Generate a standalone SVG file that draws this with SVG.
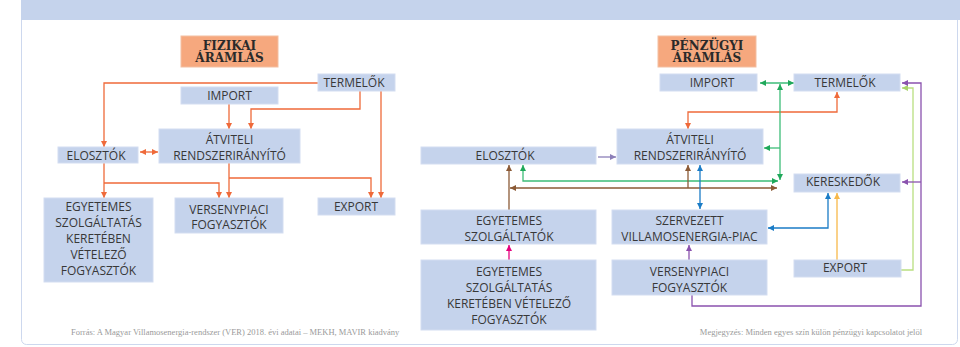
<svg xmlns="http://www.w3.org/2000/svg" width="960" height="347" viewBox="0 0 960 347">
<style>
.box{fill:#c5d3ec;stroke:#d3ddf1;stroke-width:1}
.title{fill:#f6a87e;stroke:#f3bfa2;stroke-width:1}
.t{font-family:"Open Sans","Liberation Sans",sans-serif;font-size:12px;fill:#383838;text-anchor:middle}
.tt{font-family:"DejaVu Serif","Liberation Serif",serif;font-size:12px;font-weight:bold;fill:#2a2a2a;text-anchor:middle}
.note{font-family:"Liberation Serif","DejaVu Serif",serif;font-size:8.5px;fill:#9a9a9a}
.c{fill:none;stroke-width:1.3}
.or{stroke:#ef6a3a}.gr{stroke:#3dbd78}.br{stroke:#8b5a36}.bl{stroke:#1b7cc6}.pu{stroke:#8a52ae}.lv{stroke:#8c7fb8}.ye{stroke:#f7b84a}.lg{stroke:#b9df80}.mg{stroke:#e5007d}
</style>
<defs>
<marker id="a-or" viewBox="0 0 6 6" refX="6" refY="3" markerWidth="6" markerHeight="6" markerUnits="userSpaceOnUse" orient="auto-start-reverse"><path d="M0,0L6,3L0,6z" fill="#ef6a3a"/></marker>
<marker id="a-gr" viewBox="0 0 6 6" refX="6" refY="3" markerWidth="6" markerHeight="6" markerUnits="userSpaceOnUse" orient="auto-start-reverse"><path d="M0,0L6,3L0,6z" fill="#1fa85a"/></marker>
<marker id="a-br" viewBox="0 0 6 6" refX="6" refY="3" markerWidth="6" markerHeight="6" markerUnits="userSpaceOnUse" orient="auto-start-reverse"><path d="M0,0L6,3L0,6z" fill="#8b5a36"/></marker>
<marker id="a-bl" viewBox="0 0 6 6" refX="6" refY="3" markerWidth="6" markerHeight="6" markerUnits="userSpaceOnUse" orient="auto-start-reverse"><path d="M0,0L6,3L0,6z" fill="#1b7cc6"/></marker>
<marker id="a-pu" viewBox="0 0 6 6" refX="6" refY="3" markerWidth="6" markerHeight="6" markerUnits="userSpaceOnUse" orient="auto-start-reverse"><path d="M0,0L6,3L0,6z" fill="#8a52ae"/></marker>
<marker id="a-lv" viewBox="0 0 6 6" refX="6" refY="3" markerWidth="6" markerHeight="6" markerUnits="userSpaceOnUse" orient="auto-start-reverse"><path d="M0,0L6,3L0,6z" fill="#8c7fb8"/></marker>
<marker id="a-ye" viewBox="0 0 6 6" refX="6" refY="3" markerWidth="6" markerHeight="6" markerUnits="userSpaceOnUse" orient="auto-start-reverse"><path d="M0,0L6,3L0,6z" fill="#f7b84a"/></marker>
<marker id="a-lg" viewBox="0 0 6 6" refX="6" refY="3" markerWidth="6" markerHeight="6" markerUnits="userSpaceOnUse" orient="auto-start-reverse"><path d="M0,0L6,3L0,6z" fill="#a8d46a"/></marker>
<marker id="a-mg" viewBox="0 0 6 6" refX="6" refY="3" markerWidth="6" markerHeight="6" markerUnits="userSpaceOnUse" orient="auto-start-reverse"><path d="M0,0L6,3L0,6z" fill="#e5007d"/></marker>
</defs>
<rect x="0" y="0" width="960" height="347" fill="#ffffff"/>
<rect x="21.5" y="-10" width="936" height="354.5" rx="5" fill="#ffffff" stroke="#cdd8ee" stroke-width="1"/>
<rect x="21" y="0" width="939" height="20" fill="#c5d3ec"/>

<g id="connectors">
<path class="c or" d="M318,83H104V147" marker-end="url(#a-or)"/>
<path class="c or" d="M360,91V109H251V129" marker-end="url(#a-or)"/>
<path class="c or" d="M229,104V129" marker-end="url(#a-or)"/>
<path class="c or" d="M381,91V198" marker-end="url(#a-or)"/>
<path class="c or" d="M140,152H158" marker-start="url(#a-or)" marker-end="url(#a-or)"/>
<path class="c or" d="M104,163V198" marker-end="url(#a-or)"/>
<path class="c or" d="M104,183H219V198" marker-end="url(#a-or)"/>
<path class="c or" d="M229,163V198" marker-end="url(#a-or)"/>
<path class="c or" d="M229,178H371V198" marker-end="url(#a-or)"/>

<path class="c lv" d="M598,157H616" marker-end="url(#a-lv)"/>
<path class="c or" d="M837,92V112H688V129" marker-start="url(#a-or)" marker-end="url(#a-or)"/>
<path class="c gr" d="M760,83H794" marker-start="url(#a-gr)" marker-end="url(#a-gr)"/>
<path class="c gr" d="M780,84V180" marker-start="url(#a-gr)" marker-end="url(#a-gr)"/>
<path class="c gr" d="M780,148H764" marker-end="url(#a-gr)"/>
<path class="c gr" d="M523,165V181H778" marker-start="url(#a-gr)" marker-end="url(#a-gr)"/>
<path class="c br" d="M510,188H777" marker-start="url(#a-br)" marker-end="url(#a-br)"/>
<path class="c br" d="M509,210V165" marker-end="url(#a-br)"/>
<path class="c br" d="M688,188V165" marker-end="url(#a-br)"/>
<path class="c bl" d="M700,165V209" marker-start="url(#a-bl)" marker-end="url(#a-bl)"/>
<path class="c bl" d="M828,193V228H768" marker-start="url(#a-bl)" marker-end="url(#a-bl)"/>
<path class="c ye" d="M837,260V193" marker-end="url(#a-ye)"/>
<path class="c lg" d="M901,270H913V88H902" marker-end="url(#a-lg)"/>
<path class="c pu" d="M692,295V306H921V83H902" marker-end="url(#a-pu)"/>
<path class="c pu" d="M921,182H902" marker-end="url(#a-pu)"/>
<path class="c pu" d="M689,260V245" marker-end="url(#a-pu)"/>
<path class="c mg" d="M509,260V245" marker-end="url(#a-mg)"/>
</g>

<g id="fizikai-title"><rect class="title" x="181" y="36" width="97" height="31"/><text class="tt" x="229.5" y="49.5">FIZIKAI</text><text class="tt" x="229.5" y="62">ÁRAMLÁS</text></g>
<g id="f-termelok"><rect class="box" x="318" y="74" width="77" height="17"/><text class="t" x="354" y="86.5">TERMELŐK</text></g>
<g id="f-import"><rect class="box" x="181" y="87" width="97" height="17"/><text class="t" x="229.5" y="100">IMPORT</text></g>
<g id="f-atviteli"><rect class="box" x="159" y="129" width="141" height="34"/><text class="t" x="229.5" y="143.5">ÁTVITELI</text><text class="t" x="229.5" y="159.5">RENDSZERIRÁNYÍTÓ</text></g>
<g id="f-elosztok"><rect class="box" x="58" y="147" width="80" height="16"/><text class="t" x="96" y="159.5">ELOSZTÓK</text></g>
<g id="f-egyetemes"><rect class="box" x="44" y="198" width="109" height="84"/><text class="t" x="98.5" y="211">EGYETEMES</text><text class="t" x="98.5" y="227">SZOLGÁLTATÁS</text><text class="t" x="98.5" y="243">KERETÉBEN</text><text class="t" x="98.5" y="258.5">VÉTELEZŐ</text><text class="t" x="98.5" y="274.5">FOGYASZTÓK</text></g>
<g id="f-versenypiaci"><rect class="box" x="175" y="198" width="108" height="35"/><text class="t" x="229" y="213.5">VERSENYPIACI</text><text class="t" x="229" y="229">FOGYASZTÓK</text></g>
<g id="f-export"><rect class="box" x="318" y="198" width="77" height="17"/><text class="t" x="356" y="211">EXPORT</text></g>

<g id="penzugyi-title"><rect class="title" x="658" y="36" width="98" height="31"/><text class="tt" x="707" y="49.5">PÉNZÜGYI</text><text class="tt" x="707" y="62">ÁRAMLÁS</text></g>
<g id="p-import"><rect class="box" x="660" y="74" width="97" height="17"/><text class="t" x="712" y="86.5">IMPORT</text></g>
<g id="p-termelok"><rect class="box" x="794" y="74" width="106" height="17"/><text class="t" x="845" y="86.5">TERMELŐK</text></g>
<g id="p-atviteli"><rect class="box" x="617" y="129" width="146" height="35"/><text class="t" x="690" y="143.5">ÁTVITELI</text><text class="t" x="690" y="159.5">RENDSZERIRÁNYÍTÓ</text></g>
<g id="p-elosztok"><rect class="box" x="421" y="147" width="175" height="17"/><text class="t" x="505" y="159.5">ELOSZTÓK</text></g>
<g id="p-kereskedok"><rect class="box" x="794" y="174" width="106" height="18"/><text class="t" x="843" y="186">KERESKEDŐK</text></g>
<g id="p-egyetemes-szolg"><rect class="box" x="421" y="210" width="175" height="34"/><text class="t" x="509" y="225">EGYETEMES</text><text class="t" x="509" y="241">SZOLGÁLTATÓK</text></g>
<g id="p-szervezett"><rect class="box" x="612" y="210" width="155" height="34"/><text class="t" x="689.5" y="225">SZERVEZETT</text><text class="t" x="689.5" y="241">VILLAMOSENERGIA-PIAC</text></g>
<g id="p-egyetemes-fogy"><rect class="box" x="421" y="260" width="175" height="70"/><text class="t" x="509" y="276">EGYETEMES</text><text class="t" x="509" y="292">SZOLGÁLTATÁS</text><text class="t" x="509" y="307.5">KERETÉBEN VÉTELEZŐ</text><text class="t" x="509" y="323.5">FOGYASZTÓK</text></g>
<g id="p-versenypiaci"><rect class="box" x="612" y="260" width="155" height="35"/><text class="t" x="689.5" y="276">VERSENYPIACI</text><text class="t" x="689.5" y="291.5">FOGYASZTÓK</text></g>
<g id="p-export"><rect class="box" x="794" y="260" width="107" height="17"/><text class="t" x="845" y="271.5">EXPORT</text></g>

<text class="note" x="71" y="335">Forrás: A Magyar Villamosenergia-rendszer (VER)  2018. évi adatai – MEKH, MAVIR kiadvány</text>
<text class="note" x="922" y="335" text-anchor="end">Megjegyzés: Minden egyes szín külön pénzügyi kapcsolatot jelöl</text>
</svg>
